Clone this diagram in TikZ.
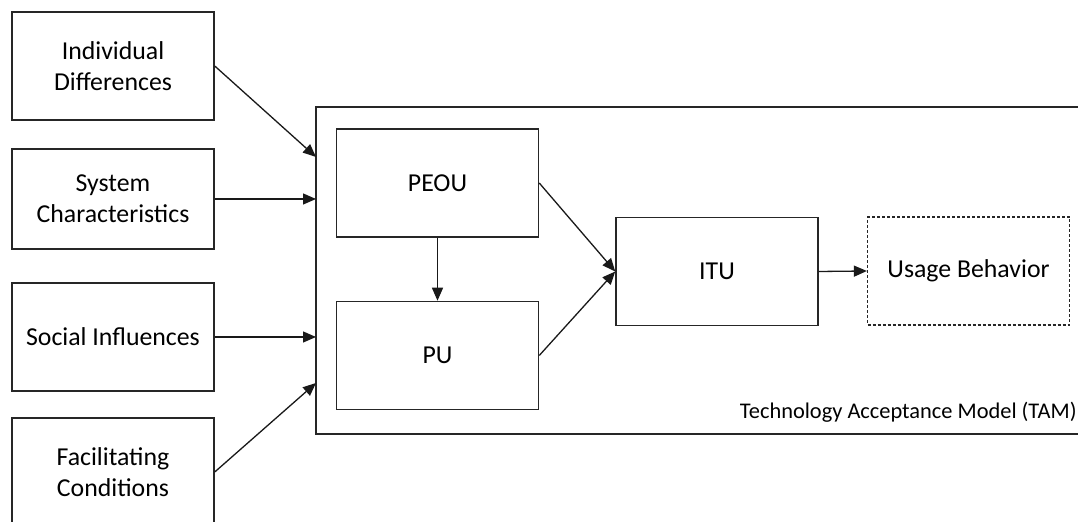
\documentclass[tikz,border=0pt]{standalone}
\usepackage{fontspec}
\setmainfont{Carlito}
\usetikzlibrary{arrows.meta}
\begin{document}
\begin{tikzpicture}[x=0.5pt,y=-0.5pt,
  box/.style={draw=black!85,line width=0.75pt,rectangle,inner sep=0pt,align=center,
    minimum width=101pt,minimum height=54pt,font=\fontsize{12.9}{15.6}\selectfont},
  arr/.style={line width=0.65pt,draw=black!90,-{Triangle[length=6.5pt,width=5.5pt]}}]
\useasboundingbox (0,0) rectangle (1078,522);
\clip (0,0) rectangle (1078,522);
% TAM frame
\draw[draw=black!85,line width=0.75pt] (1090,107) -- (316,107) -- (316,434) -- (1090,434);
\node[anchor=base east,inner sep=0pt,font=\fontsize{11.2}{13}\selectfont] (tamlabel) at (1077,419) {Technology Acceptance Model (TAM)};
\coordinate (tl) at (316,0);
\coordinate (t1) at (316,157);
\coordinate (t4) at (316,383);
% left boxes
\node[box,minimum height=54pt] (id) at (113,66) {Individual\\Differences};
\node[box,minimum height=50pt] (sc) at (113,199) {System\\Characteristics};
\node[box] (si) at (113,337) {Social Influences};
\node[box] (fc) at (113,472) {Facilitating\\Conditions};
% TAM inner
\node[box] (peou) at (437.5,183) {PEOU};
\node[box] (pu) at (437.5,355.5) {PU};
\node[box] (itu) at (717,271.5) {ITU};
\node[box,dash pattern=on 1.5pt off 1pt,line width=0.6pt] (ub) at (968.5,271) {Usage Behavior};
% arrows
\draw[arr] (id.east) -- (t1);
\draw[arr] (sc.east) -- (sc.east -| tl);
\draw[arr] (si.east) -- (si.east -| tl);
\draw[arr] (fc.east) -- (t4);
\draw[arr] (peou.south) -- (pu.north);
\draw[arr] (peou.east) -- (itu.west);
\draw[arr] (pu.east) -- (itu.west);
\draw[arr] (itu.east) -- (ub.west);
\end{tikzpicture}
\end{document}
